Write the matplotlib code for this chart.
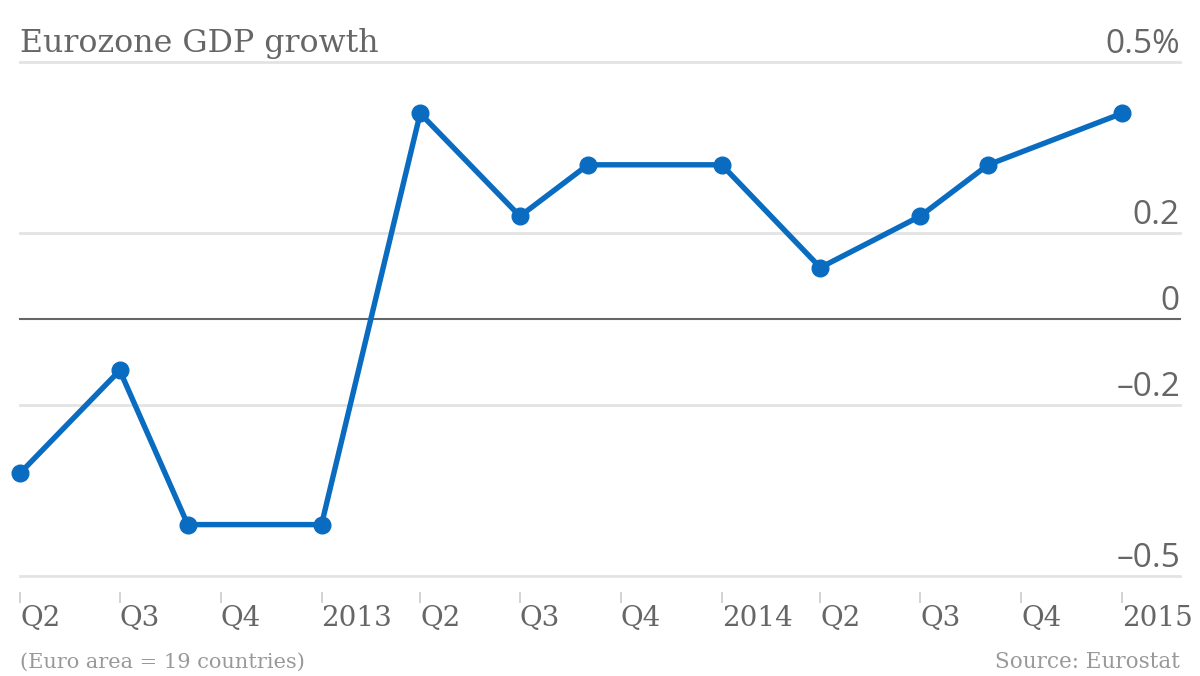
import matplotlib
matplotlib.use('Agg')
import matplotlib.pyplot as plt
import matplotlib.dates as mdates
from datetime import date

# quarterly GDP growth, % on previous quarter
dates = [date(2012, 4, 1), date(2012, 7, 1), date(2012, 9, 1), date(2013, 1, 1),
         date(2013, 4, 1), date(2013, 7, 1), date(2013, 9, 1), date(2014, 1, 1),
         date(2014, 4, 1), date(2014, 7, 1), date(2014, 9, 1), date(2015, 1, 1)]
growth = [-0.3, -0.1, -0.4, -0.4, 0.4, 0.2, 0.3, 0.3, 0.1, 0.2, 0.3, 0.4]

tick_dates = [date(2012, 4, 1), date(2012, 7, 1), date(2012, 10, 1), date(2013, 1, 1),
              date(2013, 4, 1), date(2013, 7, 1), date(2013, 10, 1), date(2014, 1, 1),
              date(2014, 4, 1), date(2014, 7, 1), date(2014, 10, 1), date(2015, 1, 1)]
tick_labels = ['Q2', 'Q3', 'Q4', '2013', 'Q2', 'Q3', 'Q4', '2014', 'Q2', 'Q3', 'Q4', '2015']

y_ticks = [-0.5, -0.5 / 3, 0, 0.5 / 3, 0.5]
y_labels = ['–0.5', '–0.2', '0', '0.2', '0.5%']

serif = 'DejaVu Serif'
sans = 'Open Sans'
grey = '#666666'
blue = '#0a6cc0'

fig = plt.figure(figsize=(12, 6.76), dpi=100)
ax = fig.add_axes([20 / 1200, 1 - 576 / 676, 1160 / 1200, 514 / 676])

ax.plot(dates, growth, color=blue, lw=3.9, marker='o', markersize=12,
        solid_joinstyle='round', zorder=5, clip_on=False)

ax.set_ylim(-0.5, 0.5)
ax.set_xlim(date(2012, 4, 1), date(2015, 2, 23))

for v, lab in zip(y_ticks, y_labels):
    if v == 0:
        ax.axhline(v, color=grey, lw=1.5, zorder=3, clip_on=False)
    else:
        ax.axhline(v, color='#e3e3e3', lw=2, zorder=1, clip_on=False)
    ax.annotate(lab, xy=(1, v), xycoords=('axes fraction', 'data'),
                xytext=(0, 6.5), textcoords='offset points',
                ha='right', va='baseline', fontsize=24, color=grey,
                family=sans)

ax.set_yticks([])
for s in ['top', 'left', 'right']:
    ax.spines[s].set_visible(False)
ax.spines['bottom'].set_position(('outward', 11.5))
ax.spines['bottom'].set_visible(False)

ax.set_xticks(tick_dates)
ax.set_xticklabels(tick_labels, ha='left', family=serif, fontsize=20, color=grey)
ax.tick_params(axis='x', length=8, width=1.2, color='#cccccc', pad=1.5)

fig.text(20 / 1200, 1 - 52 / 676, 'Eurozone GDP growth', family=serif,
         fontsize=22.8, color=grey, ha='left', va='baseline')
fig.text(20 / 1200, 1 - 668 / 676, '(Euro area = 19 countries)', family=serif,
         fontsize=15, color='#999999', ha='left', va='baseline')
fig.text(1180 / 1200, 1 - 668 / 676, 'Source: Eurostat', family=serif,
         fontsize=15.5, color='#999999', ha='right', va='baseline')

fig.savefig('out.png', dpi=100)
